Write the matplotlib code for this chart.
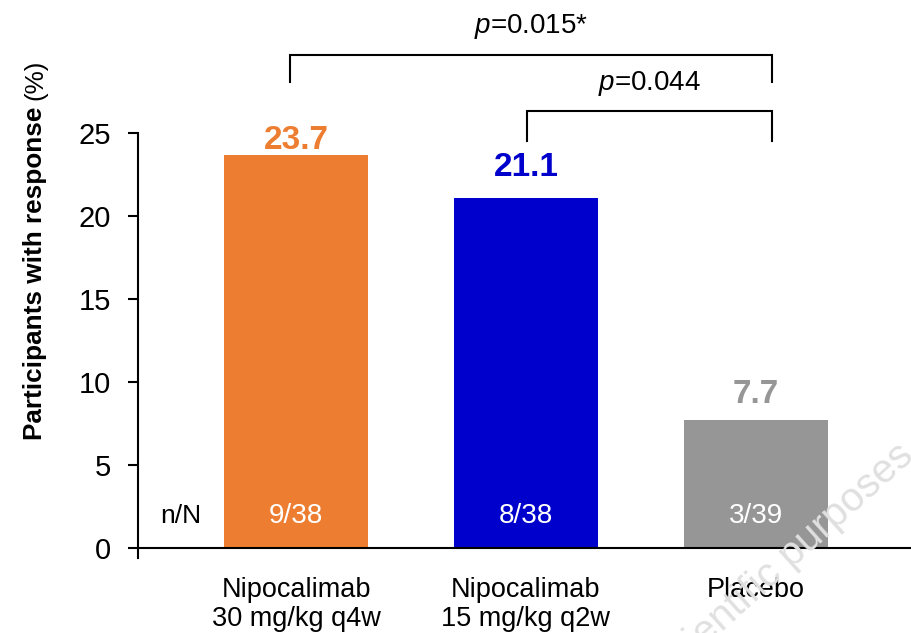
import matplotlib
matplotlib.use("Agg")
import matplotlib.pyplot as plt

plt.rcParams['font.family'] = ['Liberation Sans', 'DejaVu Sans']
plt.rcParams['mathtext.fontset'] = 'custom'
plt.rcParams['mathtext.rm'] = 'Liberation Sans'
plt.rcParams['mathtext.it'] = 'Liberation Sans:italic'

# response rates per arm
groups = ["Nipocalimab\n30 mg/kg q4w", "Nipocalimab\n15 mg/kg q2w", "Placebo"]
response_pct = [23.7, 21.1, 7.7]
n_over_N = ["9/38", "8/38", "3/39"]
bar_colors = ["#ED7D31", "#0000CC", "#969696"]

# pairwise comparisons vs placebo: (from, to, label)
comparisons = [(0, 2, r"$p$=0.015*"), (1, 2, r"$p$=0.044")]

fig = plt.figure(figsize=(9.11, 6.33), dpi=100)
ax = fig.add_axes([138 / 911, 1 - 558 / 633, 1 - 138 / 911, (558 - 133) / 633])

x = range(len(groups))
ax.bar(x, response_pct, width=0.63, color=bar_colors, zorder=2)

ax.set_xlim(-0.687, 2.674)
ax.set_ylim(-0.6, 25)
ax.set_yticks(range(0, 26, 5))
ax.set_xticks([])
ax.spines[['top', 'right']].set_visible(False)
ax.spines['bottom'].set_position(('data', 0))
ax.spines['bottom'].set_linewidth(1.5)
ax.spines['left'].set_linewidth(1.5)
ax.spines['left'].set_bounds(-0.6, 25)
ax.tick_params(axis='y', direction='out', length=7.5, width=1.5, pad=12, labelsize=21)

# value labels above bars, with per-bar offset (first one is tucked under the bracket)
label_offsets = [0.85, 1.85, 1.55]
for i, (v, c, off) in enumerate(zip(response_pct, bar_colors, label_offsets)):
    ax.text(i, v + off, f"{v}", ha='center', va='center', fontsize=24,
            fontweight='bold', color=c)

# n/N inside bars
ax.text(-0.5, 1.93, "n/N", ha='center', va='center', fontsize=19, color='black')
for i, s in enumerate(n_over_N):
    ax.text(i, 1.93, s, ha='center', va='center', fontsize=20, color='white')

# category labels under the axis
for i, g in enumerate(groups):
    ax.text(i, -1.75, g, ha='center', va='top', fontsize=19.5, linespacing=1.15)

# significance brackets
bracket_y = [(29.7, 28.1, 31.4), (26.3, 24.5, 28.0)]
bracket_x = [(-0.026, 2.07), (1.004, 2.07)]
for (a, b, lab), (xa, xb), (top, bot, ty) in zip(comparisons, bracket_x, bracket_y):
    ax.plot([xa, xa, xb, xb], [bot, top, top, bot], color='black', lw=1.5,
            clip_on=False, solid_joinstyle='miter')
    ax.text((xa + xb) / 2, ty, lab, ha='center', va='center', fontsize=20)

# y axis title: bold part then normal "(%)"
fig.canvas.draw()
yl = fig.text(35 / 911, 1 - 440 / 633, "Participants with response", rotation=90,
              ha='center', va='bottom', fontsize=18.8, fontweight='bold')
fig.canvas.draw()
bb = yl.get_window_extent()
fig.text(35 / 911, (bb.y1 + 7) / 633, "(%)", rotation=90, ha='center',
         va='bottom', fontsize=18.8)

# faint diagonal watermark
fig.text(915 / 911, 1 - 458 / 633, "For scientific purposes", rotation=42,
         rotation_mode='anchor', ha='right', va='baseline', fontsize=29,
         color='#E0E0E0', zorder=0)

fig.savefig("out.png", dpi=100)
